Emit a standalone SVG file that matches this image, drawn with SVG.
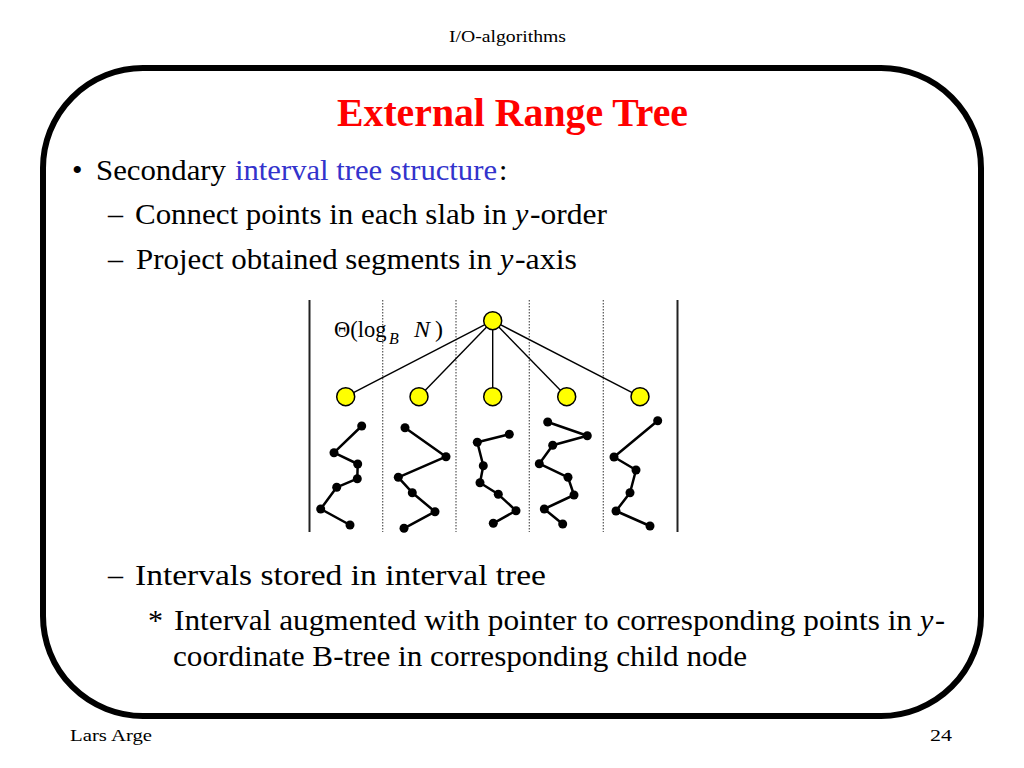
<svg xmlns="http://www.w3.org/2000/svg" width="1024" height="768" viewBox="0 0 1024 768">
<style>
.t{font-family:"Liberation Serif","Times New Roman",serif;fill:#000}
.body{font-size:30px}
.small{font-size:17px}
.title{font-size:41px;font-weight:bold;fill:#ff0000}
.blue{fill:#3333cc}
.it{font-style:italic}
.edge{stroke:#000;stroke-width:1.4;fill:none}
.node{fill:#ffff00;stroke:#000;stroke-width:1.5}
.chain{stroke:#000;stroke-width:2.5;fill:none;stroke-linejoin:round}
.pt{fill:#000}
.slab{stroke:#555;stroke-width:1.2;stroke-dasharray:1.5,1.5}
.wall{stroke:#222;stroke-width:2}
</style>
<rect width="1024" height="768" fill="#fff"/>
<text class="t small" x="449" y="42" textLength="117" lengthAdjust="spacingAndGlyphs">I/O-algorithms</text>
<rect x="43" y="68" width="938" height="648" rx="100" ry="100" fill="none" stroke="#000" stroke-width="6"/>
<text class="t title" x="337" y="126" textLength="351" lengthAdjust="spacingAndGlyphs">External Range Tree</text>

<text class="t body" x="72" y="180">•</text>
<text class="t body" x="96" y="180" textLength="130" lengthAdjust="spacingAndGlyphs">Secondary</text>
<text class="t body blue" x="235" y="180" textLength="262" lengthAdjust="spacingAndGlyphs">interval tree structure</text>
<text class="t body" x="499" y="180">:</text>

<text class="t body" x="108" y="224">–</text>
<text class="t body" x="135" y="224" textLength="372" lengthAdjust="spacingAndGlyphs">Connect points in each slab in</text>
<text class="t body it" x="515" y="224">y</text>
<text class="t body" x="530" y="224" textLength="77" lengthAdjust="spacingAndGlyphs">-order</text>

<text class="t body" x="108" y="269">–</text>
<text class="t body" x="136" y="269" textLength="356" lengthAdjust="spacingAndGlyphs">Project obtained segments in</text>
<text class="t body it" x="500" y="269">y</text>
<text class="t body" x="515" y="269" textLength="62" lengthAdjust="spacingAndGlyphs">-axis</text>

<g id="diagram">
<g id="slab-lines">
<line class="wall" x1="309.5" y1="300" x2="309.5" y2="532"/>
<line class="wall" x1="677.5" y1="300" x2="677.5" y2="532"/>
<line class="slab" x1="382.7" y1="300" x2="382.7" y2="532"/>
<line class="slab" x1="456" y1="300" x2="456" y2="532"/>
<line class="slab" x1="529.3" y1="300" x2="529.3" y2="532"/>
<line class="slab" x1="603.3" y1="300" x2="603.3" y2="532"/>
</g>
<g id="label">
<text class="t" x="334" y="337" font-size="22.5">Θ(log</text>
<text class="t it" x="389" y="344" font-size="16">B</text>
<text class="t it" x="414" y="337" font-size="24">N</text>
<text class="t" x="435" y="337" font-size="24">)</text>
</g>
<g id="connectors">
<line class="edge" x1="492.7" y1="320.7" x2="345.7" y2="396.7"/>
<line class="edge" x1="492.7" y1="320.7" x2="419" y2="396.7"/>
<line class="edge" x1="492.7" y1="320.7" x2="492.7" y2="396.7"/>
<line class="edge" x1="492.7" y1="320.7" x2="566.7" y2="396.7"/>
<line class="edge" x1="492.7" y1="320.7" x2="640" y2="396.7"/>
</g>
<g id="root"><circle class="node" cx="492.7" cy="320.7" r="9"/></g>
<g id="child1"><circle class="node" cx="345.7" cy="396.7" r="9"/></g>
<g id="child2"><circle class="node" cx="419" cy="396.7" r="9"/></g>
<g id="child3"><circle class="node" cx="492.7" cy="396.7" r="9"/></g>
<g id="child4"><circle class="node" cx="566.7" cy="396.7" r="9"/></g>
<g id="child5"><circle class="node" cx="640" cy="396.7" r="9"/></g>

<g id="chain1">
<polyline class="chain" points="361.7,426 334,452.7 357.7,464 357.3,478.7 336.7,487.3 320.7,509 350,525"/>
<circle class="pt" cx="361.7" cy="426" r="4.5"/><circle class="pt" cx="334" cy="452.7" r="4.5"/><circle class="pt" cx="357.7" cy="464" r="4.5"/><circle class="pt" cx="357.3" cy="478.7" r="4.5"/><circle class="pt" cx="336.7" cy="487.3" r="4.5"/><circle class="pt" cx="320.7" cy="509" r="4.5"/><circle class="pt" cx="350" cy="525" r="4.5"/>
</g>
<g id="chain2">
<polyline class="chain" points="405,427.7 446,456.7 398.3,477.3 412.3,492.7 435,511.7 404,528.3"/>
<circle class="pt" cx="405" cy="427.7" r="4.5"/><circle class="pt" cx="446" cy="456.7" r="4.5"/><circle class="pt" cx="398.3" cy="477.3" r="4.5"/><circle class="pt" cx="412.3" cy="492.7" r="4.5"/><circle class="pt" cx="435" cy="511.7" r="4.5"/><circle class="pt" cx="404" cy="528.3" r="4.5"/>
</g>
<g id="chain3">
<polyline class="chain" points="509.3,434.3 477.3,442.3 483.3,465.7 480,482.7 498.3,494.3 516,510.7 493.3,523.3"/>
<circle class="pt" cx="509.3" cy="434.3" r="4.5"/><circle class="pt" cx="477.3" cy="442.3" r="4.5"/><circle class="pt" cx="483.3" cy="465.7" r="4.5"/><circle class="pt" cx="480" cy="482.7" r="4.5"/><circle class="pt" cx="498.3" cy="494.3" r="4.5"/><circle class="pt" cx="516" cy="510.7" r="4.5"/><circle class="pt" cx="493.3" cy="523.3" r="4.5"/>
</g>
<g id="chain4">
<polyline class="chain" points="547.7,422 587.3,435.7 552.7,445.3 539.3,463.7 568,477.3 574,495 544.3,509 562.7,524"/>
<circle class="pt" cx="547.7" cy="422" r="4.5"/><circle class="pt" cx="587.3" cy="435.7" r="4.5"/><circle class="pt" cx="552.7" cy="445.3" r="4.5"/><circle class="pt" cx="539.3" cy="463.7" r="4.5"/><circle class="pt" cx="568" cy="477.3" r="4.5"/><circle class="pt" cx="574" cy="495" r="4.5"/><circle class="pt" cx="544.3" cy="509" r="4.5"/><circle class="pt" cx="562.7" cy="524" r="4.5"/>
</g>
<g id="chain5">
<polyline class="chain" points="657.7,420.7 614,457 636,470 630,492.7 616,511 650,526"/>
<circle class="pt" cx="657.7" cy="420.7" r="4.5"/><circle class="pt" cx="614" cy="457" r="4.5"/><circle class="pt" cx="636" cy="470" r="4.5"/><circle class="pt" cx="630" cy="492.7" r="4.5"/><circle class="pt" cx="616" cy="511" r="4.5"/><circle class="pt" cx="650" cy="526" r="4.5"/>
</g>
</g>

<text class="t body" x="108" y="585">–</text>
<text class="t body" x="135" y="585" textLength="411" lengthAdjust="spacingAndGlyphs">Intervals stored in interval tree</text>
<text class="t body" x="148" y="630">*</text>
<text class="t body" x="174" y="630" textLength="738" lengthAdjust="spacingAndGlyphs">Interval augmented with pointer to corresponding points in</text>
<text class="t body it" x="920" y="630">y</text>
<text class="t body" x="935" y="630">-</text>
<text class="t body" x="173" y="666" textLength="574" lengthAdjust="spacingAndGlyphs">coordinate B-tree in corresponding child node</text>

<text class="t small" x="70" y="741" font-size="18" textLength="82" lengthAdjust="spacingAndGlyphs">Lars Arge</text>
<text class="t small" x="930" y="741" font-size="18" textLength="22" lengthAdjust="spacingAndGlyphs">24</text>
</svg>
